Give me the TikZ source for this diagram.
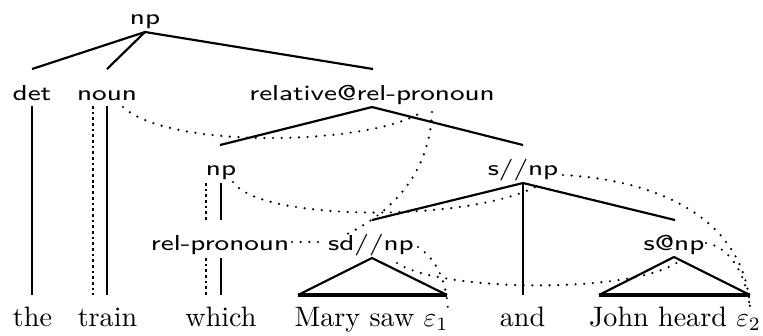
\documentclass[tikz,border=0pt]{standalone}
\usepackage{fontspec}
\newcommand\lblfont{\sffamily\fontsize{8}{9.5}\selectfont}
\newcommand\wrdfont{\rmfamily\fontsize{10.4}{12}\selectfont}
\begin{document}
\begin{tikzpicture}[x=0.37pt,y=-0.37pt,
  lab/.style={font=\lblfont, inner sep=0pt, anchor=base, xscale=1.27, transform shape},
  wrd/.style={font=\wrdfont, inner sep=0pt, anchor=base},
  br/.style={line width=0.8pt},
  vt/.style={line width=1.1pt},
  vdot/.style={line width=1.1pt, dash pattern=on 1pt off 1.1pt},
  tri/.style={line width=0.8pt, line join=round},
  tbase/.style={line width=1.2pt},
  arc/.style={line width=0.9pt, line cap=round, dash pattern=on 0pt off 3.2pt}]
\useasboundingbox (0,0) rectangle (763,335);

% labels
\node[lab] (np0) at (145,24) {np};
\node[lab] (det) at (32,100) {det};
\node[lab] (noun) at (107,100) {noun};
\node[lab] (rel) at (372,100) {relative@rel-pronoun};
\node[lab] (np1) at (221,175) {np};
\node[lab] (snp) at (523,175) {s//np};
\node[lab] (relp) at (220,250) {rel-pronoun};
\node[lab] (sdnp) at (371,250) {sd//np};
\node[lab] (sanp) at (674,250) {s@np};

% words
\node[wrd] (the) at (32.5,326) {the};
\node[wrd] (train) at (107.5,326) {train};
\node[wrd] (which) at (221,326) {which};
\node[wrd] (mary) at (371.5,326) {Mary saw $\varepsilon_1$};
\node[wrd] (and) at (522.5,326) {and};
\node[wrd] (john) at (675,326) {John heard $\varepsilon_2$};

% coordinates
\coordinate (np0b) at (145,32);
\coordinate (dett) at (32,69);
\coordinate (nount) at (107,69);
\coordinate (relt) at (373,69);
\coordinate (detb) at (32,106);
\coordinate (theb) at (32,295);
\coordinate (noundb) at (93,106);
\coordinate (traind) at (93,295);
\coordinate (nounb) at (107,106);
\coordinate (trainb) at (107,295);
\coordinate (relb) at (372,107);
\coordinate (np1t) at (220,145);
\coordinate (snpt) at (523,145);
\coordinate (np1db) at (206,183);
\coordinate (relpdt) at (206,220);
\coordinate (np1b) at (221,183);
\coordinate (relpt) at (221,220);
\coordinate (relpdb) at (206,258);
\coordinate (whichd) at (206,295);
\coordinate (relpb) at (221,258);
\coordinate (whicht) at (221,295);
\coordinate (snpb) at (523,183);
\coordinate (sdnpt) at (372,220);
\coordinate (sanpt) at (675,220);
\coordinate (andt) at (523,295);
\coordinate (sdnpb) at (372,258);
\coordinate (maryl) at (298,295);
\coordinate (maryr) at (447,295);
\coordinate (sanpb) at (674,257);
\coordinate (johnl) at (599,295);
\coordinate (johnr) at (750,295);

% tree lines
\draw[br] (np0b) -- (dett);
\draw[br] (np0b) -- (nount);
\draw[br] (np0b) -- (relt);
\draw[vt] (detb) -- (theb);
\draw[vdot] (noundb) -- (traind);
\draw[vt] (nounb) -- (trainb);
\draw[br] (relb) -- (np1t);
\draw[br] (relb) -- (snpt);
\draw[vdot] (np1db) -- (relpdt);
\draw[vt] (np1b) -- (relpt);
\draw[vdot] (relpdb) -- (whichd);
\draw[vt] (relpb) -- (whicht);
\draw[br] (snpb) -- (sdnpt);
\draw[br] (snpb) -- (sanpt);
\draw[vt] (snpb) -- (andt);
\draw[tri] (maryl) -- (sdnpb) -- (maryr);
\draw[tbase] (maryl) -- (maryr);
\draw[tri] (johnl) -- (sanpb) -- (johnr);
\draw[tbase] (johnl) -- (johnr);

% dotted links
\coordinate (a1) at (123,107);
\coordinate (a2) at (422,112);
\draw[arc] (a1) .. controls (170,150) and (370,145) .. (a2);
\coordinate (b1) at (432,112);
\coordinate (b2) at (343,236);
\draw[arc] (b1) .. controls (430,170) and (395,212) .. (b2);
\coordinate (h1) at (292,242);
\coordinate (h2) at (325,242);
\draw[arc] (h1) -- (h2);
\coordinate (c1) at (233,182);
\coordinate (c2) at (537,186);
\draw[arc] (c1) .. controls (260,222) and (470,222) .. (c2);
\coordinate (d1) at (563,175);
\coordinate (d2) at (750,308);
\draw[arc] (d1) .. controls (660,180) and (745,220) .. (d2);
\coordinate (e1) at (706,243);
\draw[arc] (e1) .. controls (726,246) and (745,268) .. (d2);
\coordinate (f1) at (418,247);
\coordinate (f2) at (448,311);
\draw[arc] (f1) .. controls (435,258) and (447,280) .. (f2);
\coordinate (g1) at (397,263);
\coordinate (g2) at (682,259);
\draw[arc] (g1) .. controls (440,292) and (640,295) .. (g2);
\end{tikzpicture}
\end{document}
